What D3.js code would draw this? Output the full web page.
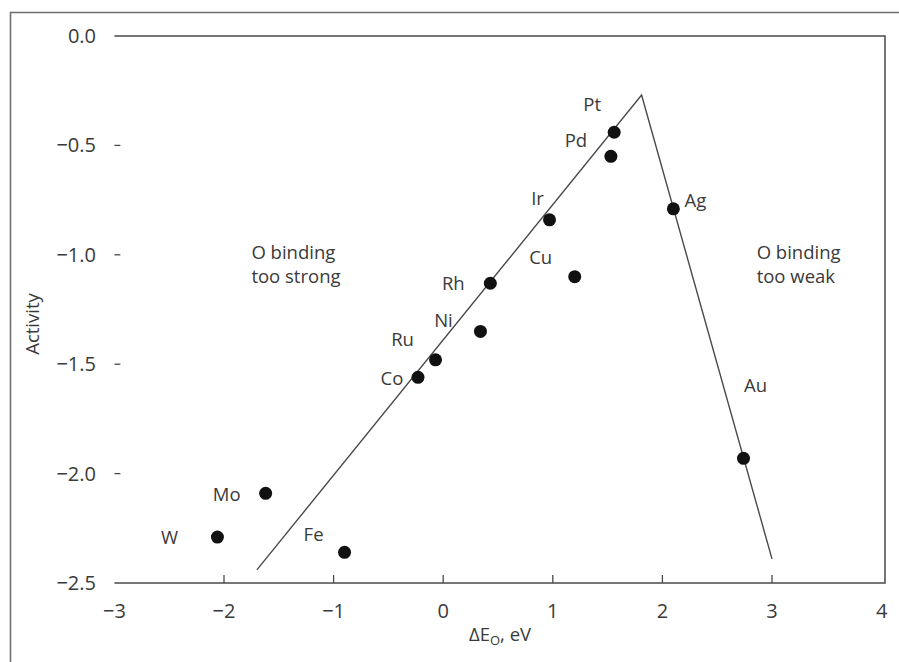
<!DOCTYPE html>
<html>
<head>
<meta charset="utf-8">
<script src="https://cdn.jsdelivr.net/npm/d3@7"></script>
<style>
  body { margin: 0; background: #fff; }
  svg { display: block; font-family: "Open Sans", "Noto Sans", sans-serif; }
  text { fill: #3a3a3a; }
</style>
</head>
<body>
<svg width="899" height="662"></svg>
<script>
// metals: binding energy (eV) vs activity
const metals = ['Pt', 'Pd', 'Ir', 'Ag', 'Cu', 'Rh', 'Ni', 'Ru', 'Co', 'Mo', 'W', 'Fe', 'Au'];
const deltaE = [1.56, 1.53, 0.97, 2.10, 1.20, 0.43, 0.34, -0.07, -0.23, -1.62, -2.06, -0.90, 2.74];
const activity = [-0.44, -0.55, -0.84, -0.79, -1.10, -1.13, -1.35, -1.48, -1.56, -2.09, -2.29, -2.36, -1.93];

// volcano lines
const volcanoX = [-1.70, 1.81, 3.00];
const volcanoY = [-2.44, -0.27, -2.39];

const xTicks = [-3, -2, -1, 0, 1, 2, 3, 4];
const yTicks = [0, -0.5, -1.0, -1.5, -2.0, -2.5];

// label offsets from each dot, px
const labelOffset = {
  Pt: [-22, -28], Pd: [-35, -16], Ir: [-12, -21], Ag: [22, -8],
  Cu: [-34, -19], Rh: [-37, 0], Ni: [-37, -11], Ru: [-33, -20],
  Co: [-26, 1], Mo: [-39, 1], W: [-48, 0], Fe: [-31, -18], Au: [12, -73]
};

const svg = d3.select('svg');
const x = d3.scaleLinear().domain([-3, 4]).range([114.4, 881.6]);
const y = d3.scaleLinear().domain([0, -2.5]).range([36, 583]);
const frameRight = 885;
const ink = '#4a4a4a';

// outer frame (left + top only)
svg.append('path')
  .attr('d', 'M10.5,662 V12.5 H899')
  .attr('fill', 'none').attr('stroke', '#6e6e6e').attr('stroke-width', 1.6);

// plot frame: top, right, bottom
svg.append('path')
  .attr('d', `M${x(-3)},${y(0)} H${frameRight} V${y(-2.5)} H${x(-3)}`)
  .attr('fill', 'none').attr('stroke', ink).attr('stroke-width', 1.5);

// x ticks (inside, upward) + labels
const xg = svg.append('g');
xg.selectAll('line').data(xTicks.filter(d => d > -3 && d < 4)).enter().append('line')
  .attr('x1', d => x(d)).attr('x2', d => x(d))
  .attr('y1', y(-2.5)).attr('y2', y(-2.5) - 8)
  .attr('stroke', ink).attr('stroke-width', 1.3);
xg.selectAll('text').data(xTicks).enter().append('text')
  .attr('x', d => x(d)).attr('y', y(-2.5) + 35)
  .attr('text-anchor', 'middle').attr('font-size', 20)
  .text(d => d < 0 ? '\u2212' + Math.abs(d) : d);

// y ticks + labels
const yg = svg.append('g');
yg.selectAll('line').data(yTicks.filter(d => d < 0 && d > -2.5)).enter().append('line')
  .attr('x1', x(-3)).attr('x2', x(-3) + 6)
  .attr('y1', d => y(d)).attr('y2', d => y(d))
  .attr('stroke', ink).attr('stroke-width', 1.3);
yg.selectAll('text').data(yTicks).enter().append('text')
  .attr('x', 96).attr('y', d => y(d)).attr('dy', '0.35em')
  .attr('text-anchor', 'end').attr('font-size', 20)
  .text(d => (d < 0 ? '\u2212' : '') + Math.abs(d).toFixed(1));

// axis titles
svg.append('text')
  .attr('transform', `translate(39,324) rotate(-90)`)
  .attr('text-anchor', 'middle').attr('font-size', 18.5)
  .text('Activity');
const xt = svg.append('text')
  .attr('x', 500).attr('y', 641)
  .attr('text-anchor', 'middle').attr('font-size', 18.5);
xt.append('tspan').text('\u0394E');
xt.append('tspan').attr('font-size', 13).attr('dy', 4).text('O');
xt.append('tspan').attr('dy', -4).text(', eV');

// volcano line
const line = d3.line().x(d => x(d[0])).y(d => y(d[1]));
svg.append('path')
  .datum(d3.zip(volcanoX, volcanoY))
  .attr('d', line)
  .attr('fill', 'none').attr('stroke', ink).attr('stroke-width', 1.4);

// points
const pts = d3.zip(metals, deltaE, activity);
svg.append('g').selectAll('circle').data(pts).enter().append('circle')
  .attr('cx', d => x(d[1])).attr('cy', d => y(d[2])).attr('r', 6.5)
  .attr('fill', '#111');

svg.append('g').selectAll('text').data(pts).enter().append('text')
  .attr('x', d => x(d[1]) + labelOffset[d[0]][0])
  .attr('y', d => y(d[2]) + labelOffset[d[0]][1])
  .attr('dy', '0.35em').attr('text-anchor', 'middle').attr('font-size', 18.5)
  .text(d => d[0]);

// region notes, one text per line
const notes = [
  { lines: ['O binding', 'too strong'], at: [-1.75, -1.02] },
  { lines: ['O binding', 'too weak'], at: [2.86, -1.02] }
];
notes.forEach(n => {
  n.lines.forEach((s, i) => {
    svg.append('text')
      .attr('x', x(n.at[0])).attr('y', y(n.at[1]) + i * 24)
      .attr('font-size', 18.5)
      .text(s);
  });
});
</script>
</body>
</html>
